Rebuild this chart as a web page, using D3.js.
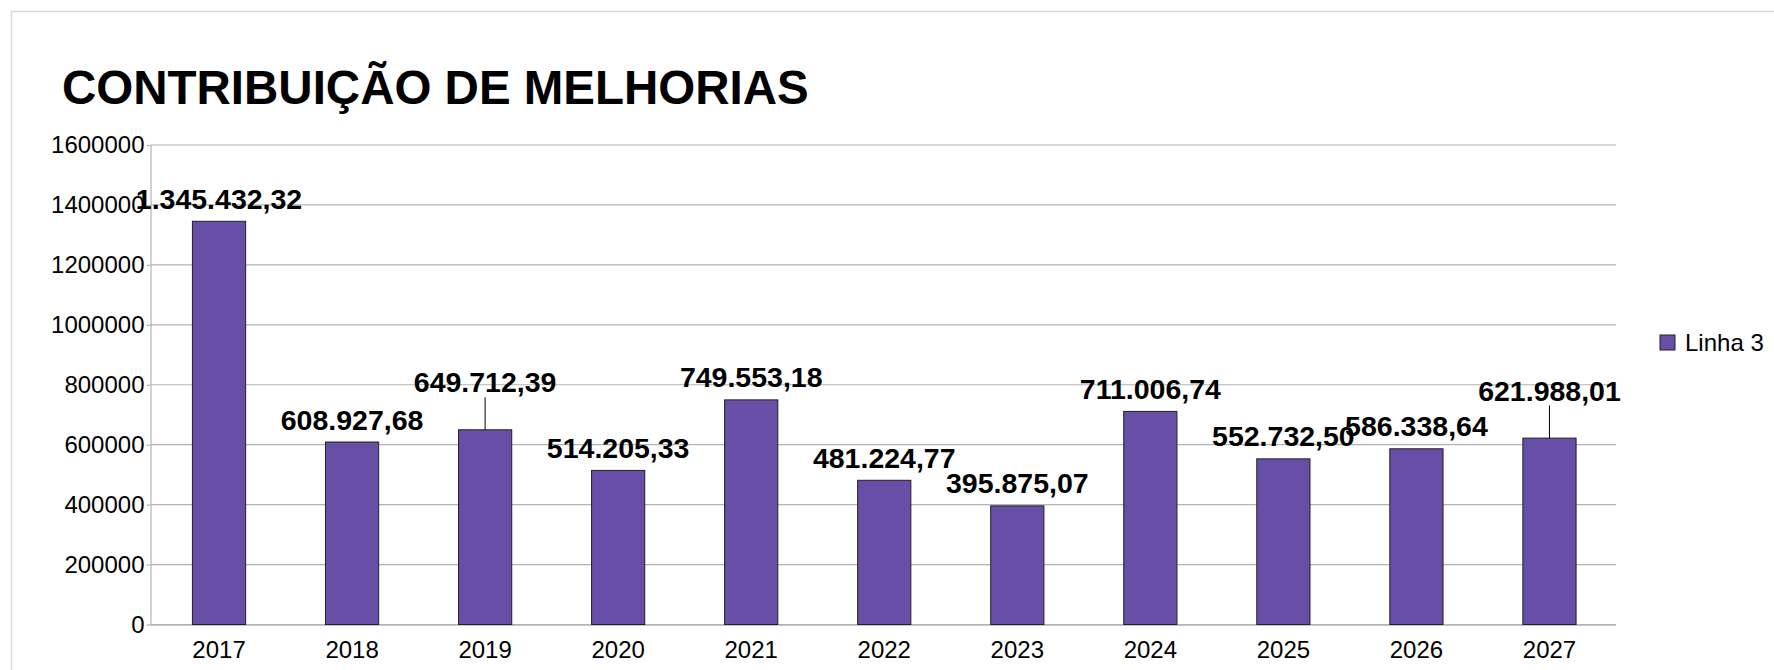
<!DOCTYPE html>
<html lang="pt">

<head>
  <title>Contribuição de Melhorias</title>
  <meta charset="UTF-8">
  <script src="https://cdn.jsdelivr.net/npm/d3@7"></script>
  <style>
    body { margin: 0; background: #fff; }
    svg { font-family: "Liberation Sans", Arial, sans-serif; }
  </style>
</head>

<body>
  <div id="box"></div>
  <script>
    // dados
    const years = ['2017', '2018', '2019', '2020', '2021', '2022', '2023', '2024', '2025', '2026', '2027']
    const values = [1345432.32, 608927.68, 649712.39, 514205.33, 749553.18, 481224.77, 395875.07, 711006.74, 552732.50, 586338.64, 621988.01]
    const yTicks = [0, 200000, 400000, 600000, 800000, 1000000, 1200000, 1400000, 1600000]
    const seriesName = 'Linha 3'
    const title = 'CONTRIBUIÇÃO DE MELHORIAS'

    // rótulos deslocados para cima (com linha de chamada)
    const raisedLabels = ['2019', '2027']

    const width = 1774
    const height = 670
    const margin = { left: 150.5, right: 158, top: 145, bottom: 45.5 }
    const barColor = '#674ea7'

    const svg = d3.select('#box').append('svg')
      .attr('width', width)
      .attr('height', height)

    // moldura
    svg.append('rect')
      .attr('x', 11.5).attr('y', 11.5)
      .attr('width', width).attr('height', height)
      .attr('fill', 'none').attr('stroke', '#d9d9d9').attr('stroke-width', 1.5)

    svg.append('text')
      .attr('x', 62).attr('y', 104)
      .attr('font-size', 47.5).attr('font-weight', 'bold')
      .text(title)

    const xScale = d3.scaleBand().domain(years)
      .range([margin.left + 2, width - margin.right])
      .paddingInner(0.6).paddingOuter(0.3)
    const yScale = d3.scaleLinear().domain([0, 1600000])
      .range([height - margin.bottom, margin.top])

    // grade
    svg.append('g')
      .selectAll('line')
      .data(yTicks)
      .join('line')
      .attr('x1', margin.left).attr('x2', width - margin.right)
      .attr('y1', d => yScale(d)).attr('y2', d => yScale(d))
      .attr('stroke', '#b3b3b3').attr('stroke-width', 1.2)

    const yAxis = d3.axisLeft(yScale).tickValues(yTicks).tickSize(4).tickPadding(2).tickFormat(d3.format('d'))
    const gy = svg.append('g')
      .attr('transform', `translate(${margin.left},0)`)
      .call(yAxis)
    gy.selectAll('text').attr('font-size', 24).attr('fill', '#000').attr('font-family', null)
    gy.selectAll('line, path').attr('stroke', '#b3b3b3').attr('stroke-width', 1.2)
    gy.select('.domain').attr('d', `M0.5,${margin.top}V${height - margin.bottom}`)

    const xAxis = d3.axisBottom(xScale).tickSize(0).tickPadding(16)
    const gx = svg.append('g')
      .attr('transform', `translate(0,${height - margin.bottom})`)
      .call(xAxis)
    gx.selectAll('text').attr('font-size', 24).attr('fill', '#000').attr('font-family', null)
    gx.select('.domain').attr('stroke', '#b3b3b3').attr('stroke-width', 1.5)
      .attr('d', `M${margin.left},0.5H${width - margin.right}`)

    // barras
    svg.append('g')
      .selectAll('rect')
      .data(values)
      .join('rect')
      .attr('x', (d, i) => xScale(years[i]))
      .attr('y', d => yScale(d))
      .attr('width', xScale.bandwidth())
      .attr('height', d => yScale(0) - yScale(d))
      .attr('fill', barColor)
      .attr('stroke', '#222').attr('stroke-width', 1)

    // rótulos de dados
    const br = d3.formatLocale({ decimal: ',', thousands: '.', grouping: [3], currency: ['R$', ''] })
    const fmt = br.format(',.2f')
    const labels = svg.append('g')
    values.forEach((v, i) => {
      const cx = xScale(years[i]) + xScale.bandwidth() / 2
      const top = yScale(v)
      const raised = raisedLabels.includes(years[i])
      const base = top - 12.5 - (raised ? 25 : 0)
      if (raised) {
        labels.append('line')
          .attr('x1', cx).attr('x2', cx)
          .attr('y1', base + 5).attr('y2', top)
          .attr('stroke', '#000').attr('stroke-width', 1)
      }
      labels.append('text')
        .attr('x', cx).attr('y', base)
        .attr('text-anchor', 'middle')
        .attr('font-size', 28.5).attr('font-weight', 'bold')
        .text(fmt(v))
    })

    // legenda
    const lg = svg.append('g').attr('transform', 'translate(1660,335)')
    lg.append('rect')
      .attr('width', 15).attr('height', 15)
      .attr('fill', barColor).attr('stroke', '#222').attr('stroke-width', 1)
    lg.append('text')
      .attr('x', 25).attr('y', 16)
      .attr('font-size', 24)
      .text(seriesName)
  </script>
</body>

</html>
